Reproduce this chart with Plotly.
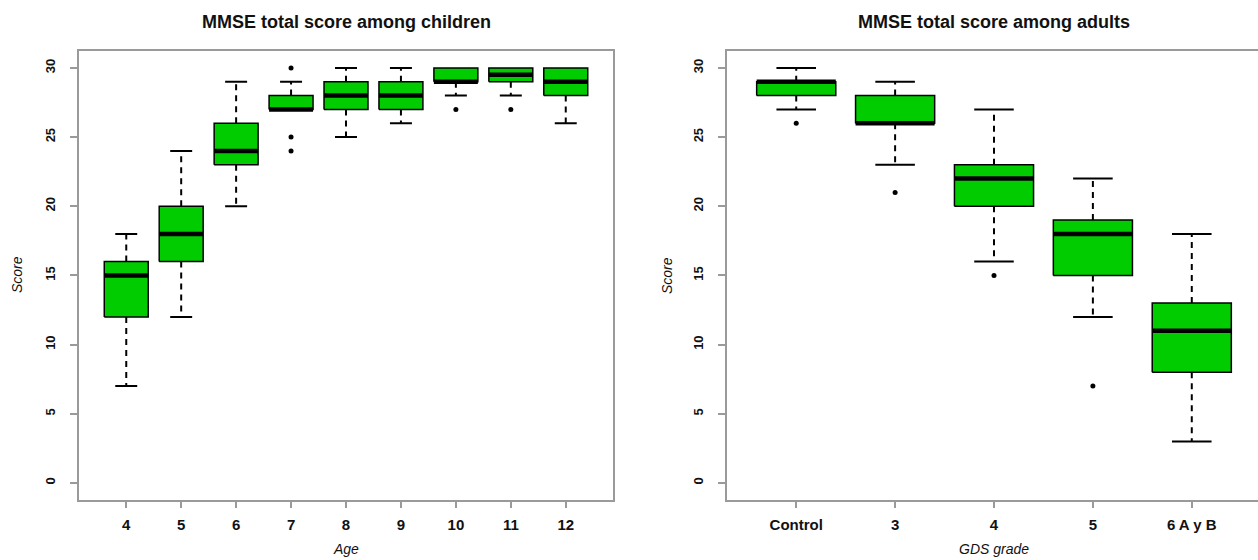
import plotly.graph_objects as go

# ---- data: MMSE total score, children by age ----
child_groups = ["4", "5", "6", "7", "8", "9", "10", "11", "12"]
child_low = [7, 12, 20, 27, 25, 26, 28, 28, 26]
child_q1 = [12, 16, 23, 27, 27, 27, 29, 29, 28]
child_med = [15, 18, 24, 27, 28, 28, 29, 29.5, 29]
child_q3 = [16, 20, 26, 28, 29, 29, 30, 30, 30]
child_high = [18, 24, 29, 29, 30, 30, 30, 30, 30]
child_out = [[], [], [], [30, 25, 24], [], [], [27], [27], []]

# ---- data: MMSE total score, adults by GDS grade ----
adult_groups = ["Control", "3", "4", "5", "6 A y B"]
adult_low = [27, 23, 16, 12, 3]
adult_q1 = [28, 26, 20, 15, 8]
adult_med = [29, 26, 22, 18, 11]
adult_q3 = [29, 28, 23, 19, 13]
adult_high = [30, 29, 27, 22, 18]
adult_out = [[26], [21], [15], [7], []]

W, H = 1258, 560
BOX_HALF = 0.4
CAP_HALF = 0.2
FILL = "#00CC00"
AXIS_GREY = "#9a9a9a"
FONT = "Liberation Sans, Arial, sans-serif"


def px(x):
    return x / W


def py(y):
    return 1 - y / H


def box_traces(low, q1, med, q3, high, outliers, xa, ya):
    traces = []
    bx, by, mx, my, wx, wy, cx, cy, ox, oy = ([] for _ in range(10))
    for i in range(len(med)):
        c = i + 1
        bx += [c - BOX_HALF, c + BOX_HALF, c + BOX_HALF, c - BOX_HALF, c - BOX_HALF, None]
        by += [q1[i], q1[i], q3[i], q3[i], q1[i], None]
        mx += [c - BOX_HALF, c + BOX_HALF, None]
        my += [med[i], med[i], None]
        if high[i] > q3[i]:
            wx += [c, c, None]
            wy += [q3[i], high[i], None]
            cx += [c - CAP_HALF, c + CAP_HALF, None]
            cy += [high[i], high[i], None]
        if low[i] < q1[i]:
            wx += [c, c, None]
            wy += [q1[i], low[i], None]
            cx += [c - CAP_HALF, c + CAP_HALF, None]
            cy += [low[i], low[i], None]
        for v in outliers[i]:
            ox.append(c)
            oy.append(v)
    common = dict(xaxis=xa, yaxis=ya, showlegend=False, hoverinfo="skip")
    traces.append(go.Scatter(x=wx, y=wy, mode="lines",
                             line=dict(color="black", width=2, dash="6px,5px"), **common))
    traces.append(go.Scatter(x=cx, y=cy, mode="lines",
                             line=dict(color="black", width=2), **common))
    traces.append(go.Scatter(x=bx, y=by, mode="lines", fill="toself", fillcolor=FILL,
                             line=dict(color="black", width=1.5), **common))
    traces.append(go.Scatter(x=mx, y=my, mode="lines",
                             line=dict(color="black", width=4.5), **common))
    traces.append(go.Scatter(x=ox, y=oy, mode="markers",
                             marker=dict(color="black", size=5, symbol="circle"), **common))
    return traces


fig = go.Figure()
for t in box_traces(child_low, child_q1, child_med, child_q3, child_high, child_out, "x", "y"):
    fig.add_trace(t)
for t in box_traces(adult_low, adult_q1, adult_med, adult_q3, adult_high, adult_out, "x2", "y2"):
    fig.add_trace(t)

xtickfont = dict(family=FONT, size=15, color="#111", weight="bold")
ytickfont = dict(family=FONT, size=13, color="#111", weight="bold")
y_dom = [py(499.5), py(51.3)]

xcommon = dict(showgrid=False, zeroline=False, showline=True, linecolor=AXIS_GREY, linewidth=1.5,
               ticks="outside", ticklen=7, tickcolor=AXIS_GREY, tickwidth=1.5,
               tickfont=xtickfont, ticklabelstandoff=4, fixedrange=True)
ycommon = dict(showgrid=False, zeroline=False, showline=True, linecolor=AXIS_GREY, linewidth=1.5,
               ticks="outside", ticklen=7, tickcolor=AXIS_GREY, tickwidth=1.5,
               tickfont=ytickfont, tickangle=-90, ticklabelstandoff=10,
               tickvals=[0, 5, 10, 15, 20, 25, 30], range=[-1.2, 31.2], domain=y_dom,
               fixedrange=True)

fig.update_layout(
    width=W, height=H,
    margin=dict(l=0, r=0, t=0, b=0),
    paper_bgcolor="white", plot_bgcolor="white",
    xaxis=dict(domain=[px(79), px(613)], range=[0.14, 9.86],
               tickvals=list(range(1, len(child_groups) + 1)), ticktext=child_groups,
               mirror=True, anchor="y", **xcommon),
    yaxis=dict(anchor="x", mirror=True, **ycommon),
    xaxis2=dict(domain=[px(727), 1.0], range=[0.3, 0.3 + (W - 727) / (534 / 5.4)],
                tickvals=list(range(1, len(adult_groups) + 1)), ticktext=adult_groups,
                mirror=True, anchor="y2", **xcommon),
    yaxis2=dict(anchor="x2", mirror=False, **ycommon),
)

titles = [
    ("MMSE total score among children", 346, 22),
    ("MMSE total score among adults", 994, 22),
]
for text, x, y in titles:
    fig.add_annotation(text=text, x=px(x), y=py(y), xref="paper", yref="paper",
                       showarrow=False, xanchor="center", yanchor="middle",
                       font=dict(family=FONT, size=18, color="#111", weight="bold"))

axis_titles = [
    ("Age", 346, 549, 0, 14),
    ("GDS grade", 994, 549, 0, 14),
    ("Score", 17, 275, -90, 14),
    ("Score", 667, 275, -90, 14),
]
for text, x, y, ang, size in axis_titles:
    fig.add_annotation(text=text, x=px(x), y=py(y), xref="paper", yref="paper",
                       showarrow=False, xanchor="center", yanchor="middle", textangle=ang,
                       font=dict(family=FONT, size=size, color="#111", style="italic"))

fig.write_html("out.html")
